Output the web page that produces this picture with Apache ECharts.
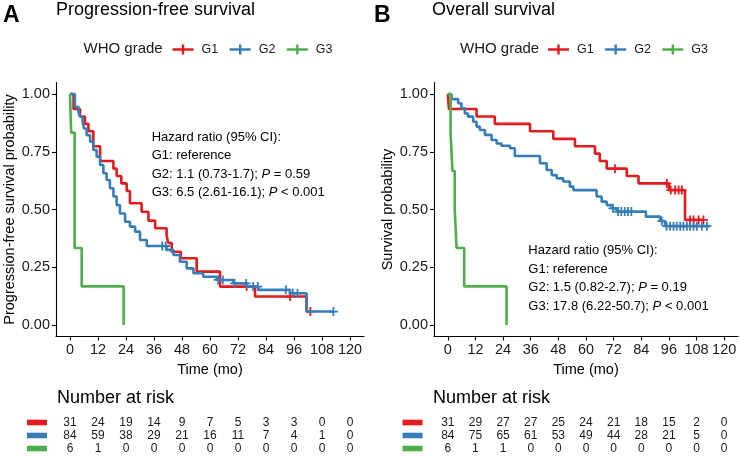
<!DOCTYPE html>
<html><head><meta charset="utf-8">
<script src="https://cdn.jsdelivr.net/npm/echarts@6/dist/echarts.min.js"></script>
<style>html,body{margin:0;padding:0;background:#fff}#c{width:740px;height:456px}</style>
</head><body><div id="c"></div>
<script>
const FONT = '"Liberation Sans", Arial, Helvetica, sans-serif';
const groups = ['G1', 'G2', 'G3'];
const colors = ['#E41A1C', '#377EB8', '#4DAF4A'];
const xTicks = [0, 12, 24, 36, 48, 60, 72, 84, 96, 108, 120];
const yTicks = [0, 0.25, 0.5, 0.75, 1];

// Panel A: progression-free survival (time in months, survival probability after each step)
const pfsG1Time = [0, 1.5, 4.3, 6.4, 7.9, 10.0, 12.9, 18.6, 20.0, 22.0, 24.3, 25.7, 30.7, 33.6, 36.5, 41.4, 42.1, 43.6, 47.5, 54.3, 64.3, 79.3, 101.4, 103.0];
const pfsG1Surv = [1, 0.935, 0.903, 0.871, 0.839, 0.774, 0.71, 0.677, 0.645, 0.613, 0.58, 0.527, 0.49, 0.452, 0.419, 0.387, 0.355, 0.317, 0.289, 0.231, 0.166, 0.123, 0.058, 0.058];
const pfsG1Censor = [75.7, 94.3, 103.0];
const pfsG2Time = [0, 2.1, 3.6, 4.3, 5.4, 6.0, 7.1, 8.6, 10.0, 11.4, 12.9, 14.3, 15.7, 17.1, 18.6, 20.0, 21.4, 23.6, 25.7, 27.9, 30.0, 32.9, 41.4, 44.3, 47.1, 50.0, 52.9, 57.1, 62.9, 70.0, 75.7, 80.7, 94.3, 101.4, 112.9];
const pfsG2Surv = [1, 0.945, 0.923, 0.902, 0.88, 0.851, 0.822, 0.794, 0.758, 0.729, 0.693, 0.657, 0.628, 0.592, 0.556, 0.519, 0.483, 0.447, 0.426, 0.404, 0.368, 0.342, 0.325, 0.303, 0.274, 0.245, 0.224, 0.209, 0.195, 0.18, 0.166, 0.152, 0.137, 0.058, 0.058];
const pfsG2Censor = [39.5, 41.0, 63.5, 65.5, 70.5, 75.5, 78.5, 80.5, 92.5, 95.5, 97.5, 112.9];
const pfsG3Time = [0, 0.5, 2.0, 5.0, 23.0];
const pfsG3Surv = [1, 0.833, 0.333, 0.167, 0];
const pfsG3Censor = [];

// Panel B: overall survival
const osG1Time = [0, 0.5, 12.5, 20.4, 35.7, 45.8, 55.2, 63.9, 66.0, 69.0, 77.7, 82.8, 96.0, 103.0, 111.0];
const osG1Surv = [1, 0.935, 0.903, 0.871, 0.839, 0.806, 0.774, 0.742, 0.71, 0.677, 0.645, 0.613, 0.584, 0.455, 0.455];
const osG1Censor = [72.6, 95.1, 96.8, 98.7, 100.2, 101.6, 105.2, 106.7, 108.9, 111.0];
const osG2Time = [0, 1.6, 4.5, 5.9, 7.4, 8.8, 11.0, 12.5, 13.9, 16.1, 19.0, 21.2, 23.3, 27.0, 29.1, 40.0, 42.9, 45.1, 47.3, 50.1, 53.0, 54.5, 64.6, 66.8, 69.0, 71.2, 73.3, 86.0, 92.2, 94.3, 113.9];
const osG2Surv = [1, 0.978, 0.96, 0.938, 0.916, 0.902, 0.88, 0.859, 0.844, 0.823, 0.801, 0.786, 0.776, 0.765, 0.732, 0.70, 0.671, 0.649, 0.635, 0.621, 0.599, 0.584, 0.556, 0.534, 0.519, 0.505, 0.491, 0.469, 0.45, 0.428, 0.428];
const osG2Censor = [71.7, 73.9, 75.3, 76.8, 78.2, 79.7, 92.9, 95.0, 96.5, 98.0, 99.4, 100.9, 102.3, 103.8, 105.2, 106.7, 108.1, 110.3, 112.5];
const osG3Time = [0, 1.2, 2.0, 3.0, 3.8, 7.1, 25.5];
const osG3Surv = [1, 0.833, 0.667, 0.5, 0.333, 0.167, 0];
const osG3Censor = [];

// Number at risk tables
const pfsRiskG1 = [31, 24, 19, 14, 9, 7, 5, 3, 3, 0, 0];
const pfsRiskG2 = [84, 59, 38, 29, 21, 16, 11, 7, 4, 1, 0];
const pfsRiskG3 = [6, 1, 0, 0, 0, 0, 0, 0, 0, 0, 0];
const osRiskG1 = [31, 29, 27, 27, 25, 24, 21, 18, 15, 2, 0];
const osRiskG2 = [84, 75, 65, 61, 53, 49, 44, 28, 21, 5, 0];
const osRiskG3 = [6, 1, 1, 0, 0, 0, 0, 0, 0, 0, 0];

const panelTitles = ['Progression-free survival', 'Overall survival'];
const panelLetters = ['A', 'B'];
const yTitles = ['Progression-free survival probability', 'Survival probability'];
const xTitle = 'Time (mo)';
const legendTitle = 'WHO grade';
const riskTitle = 'Number at risk';
const hrText = [
  ['Hazard ratio (95% CI):', 'G1: reference', 'G2: 1.1 (0.73-1.7); {i|P} = 0.59', 'G3: 6.5 (2.61-16.1); {i|P} < 0.001'],
  ['Hazard ratio (95% CI):', 'G1: reference', 'G2: 1.5 (0.82-2.7); {i|P} = 0.19', 'G3: 17.8 (6.22-50.7); {i|P} < 0.001']
];

const panels = [
  { times: [pfsG1Time, pfsG2Time, pfsG3Time], surv: [pfsG1Surv, pfsG2Surv, pfsG3Surv], cens: [pfsG1Censor, pfsG2Censor, pfsG3Censor], risk: [pfsRiskG1, pfsRiskG2, pfsRiskG3] },
  { times: [osG1Time, osG2Time, osG3Time], surv: [osG1Surv, osG2Surv, osG3Surv], cens: [osG1Censor, osG2Censor, osG3Censor], risk: [osRiskG1, osRiskG2, osRiskG3] }
];

// layout (pixels)
const L = [
  { left: 56, width: 308, swX: 27, legX: 172.5, whoX: 83.5, hrX: 151.7, hrY: 137, titleX: 56, letterX: 3, riskTitleX: 57 },
  { left: 434, width: 304, swX: 402.5, legX: 548, whoX: 460, hrX: 528.3, hrY: 250.7, titleX: 432, letterX: 374, riskTitleX: 433 }
];
const plotTop = 82.5, plotH = 254;
const riskTop = 416, riskH = 39;

function survAt(times, surv, t) {
  let s = surv[0];
  for (let i = 0; i < times.length; i++) { if (times[i] <= t) s = surv[i]; }
  return s;
}

const chart = echarts.init(document.getElementById('c'), null, { renderer: 'canvas' });
const grid = [], xAxis = [], yAxis = [], series = [], graphic = [], title = [], legend = [];
const plusPath = 'path://M4,0H6V4H10V6H6V10H4V6H0V4H4Z';
const legendIcon = 'path://M0,3.8H21V6.2H0Z M9.3,0H11.7V10H9.3Z';

panels.forEach((p, k) => {
  const lay = L[k];
  grid.push({ left: lay.left, top: plotTop, width: lay.width, height: plotH, containLabel: false, outerBoundsMode: 'none' });
  grid.push({ left: lay.left, top: riskTop, width: lay.width, height: riskH, containLabel: false, outerBoundsMode: 'none' });
  const gMain = k * 2, gRisk = k * 2 + 1;
  xAxis.push({
    gridIndex: gMain, type: 'value', min: -6, max: 126,
    axisLine: { show: true, onZero: false, lineStyle: { color: '#000', width: 1.1 } },
    axisTick: { show: true, customValues: xTicks, length: 4, lineStyle: { color: '#000', width: 1.1 } },
    axisLabel: { show: true, customValues: xTicks, fontSize: 14.5, color: '#1a1a1a', margin: 6, fontFamily: FONT },
    splitLine: { show: false },
    name: xTitle, nameLocation: 'middle', nameGap: 21, nameTextStyle: { fontSize: 14.5, color: '#000', fontFamily: FONT }
  });
  yAxis.push({
    gridIndex: gMain, type: 'value', min: -0.05, max: 1.05,
    axisLine: { show: true, onZero: false, lineStyle: { color: '#000', width: 1.1 } },
    axisTick: { show: true, customValues: yTicks, length: 4, lineStyle: { color: '#000', width: 1.1 } },
    axisLabel: { show: true, customValues: yTicks, fontSize: 14.5, color: '#1a1a1a', margin: 6, fontFamily: FONT, formatter: v => v.toFixed(2) },
    splitLine: { show: false },
    name: yTitles[k], nameLocation: 'middle', nameGap: 39, nameTextStyle: { fontSize: 14.5, color: '#000', fontFamily: FONT }
  });
  xAxis.push({ gridIndex: gRisk, type: 'value', min: -6, max: 126, show: false });
  yAxis.push({ gridIndex: gRisk, type: 'category', data: groups, inverse: true, show: false });

  const xIdx = k * 2, yIdx = k * 2;
  groups.forEach((g, i) => {
    series.push({
      name: g, type: 'line', xAxisIndex: xIdx, yAxisIndex: yIdx, step: 'end', symbol: 'none',
      data: p.times[i].map((t, j) => [t, p.surv[i][j]]),
      lineStyle: { color: colors[i], width: 2.6 }, itemStyle: { color: colors[i] },
      z: 2 + i, silent: true
    });
    if (p.cens[i].length) {
      series.push({
        name: g, type: 'scatter', xAxisIndex: xIdx, yAxisIndex: yIdx, symbol: plusPath, symbolSize: 9,
        data: p.cens[i].map(t => [t, survAt(p.times[i], p.surv[i], t)]),
        itemStyle: { color: colors[i], opacity: 1 }, z: 2 + i, silent: true
      });
    }
    series.push({
      name: g + ' at risk', type: 'scatter', xAxisIndex: xIdx + 1, yAxisIndex: yIdx + 1,
      symbol: 'circle', symbolSize: 2, itemStyle: { color: 'rgba(255,255,255,0)' },
      data: xTicks.map((t, j) => [t, i, p.risk[i][j]]),
      label: { show: true, position: 'inside', formatter: q => String(q.value[2]), fontSize: 12, color: '#1a1a1a', fontFamily: FONT, opacity: 1 },
      silent: true, z: 5
    });
    graphic.push({ type: 'rect', shape: { x: lay.swX, y: riskTop + riskH / 6 * (2 * i + 1) - 2.8, width: 20, height: 5.6 }, style: { fill: colors[i] } });
  });

  legend.push({
    left: lay.legX, top: 43, padding: 0, orient: 'horizontal', itemWidth: 21, itemHeight: 10, itemGap: 11.5,
    data: groups.map(g => ({ name: g, icon: legendIcon })),
    textStyle: { fontSize: 12.5, color: '#1a1a1a', fontFamily: FONT, padding: [0, 0, 0, 3] },
    selectedMode: false
  });
  graphic.push({ type: 'text', x: lay.whoX, y: 49, style: { text: legendTitle, fontSize: 15, fontFamily: FONT, fill: '#1a1a1a', verticalAlign: 'middle' } });
  title.push({ text: panelLetters[k], left: lay.letterX, top: 4, padding: 0, textStyle: { fontSize: 23, fontWeight: 'bold', color: '#000', fontFamily: FONT } });
  title.push({ text: panelTitles[k], left: lay.titleX, top: 1, padding: 0, textStyle: { fontSize: 18, fontWeight: 'normal', color: '#000', fontFamily: FONT } });
  graphic.push({ type: 'text', x: lay.riskTitleX, y: 398, style: { text: riskTitle, fontSize: 18, fontFamily: FONT, fill: '#000', verticalAlign: 'middle' } });
  hrText[k].forEach((s, j) => {
    graphic.push({ type: 'text', x: lay.hrX, y: lay.hrY + j * 18.5, style: { text: s, fontSize: 13, fontFamily: FONT, fill: '#000', verticalAlign: 'middle', rich: { i: { fontStyle: 'italic', fontSize: 13, fontFamily: FONT, fill: '#000' } } } });
  });
});

chart.setOption({
  animation: false,
  backgroundColor: '#fff',
  title, legend, grid, xAxis, yAxis, series, graphic
});
</script></body></html>
